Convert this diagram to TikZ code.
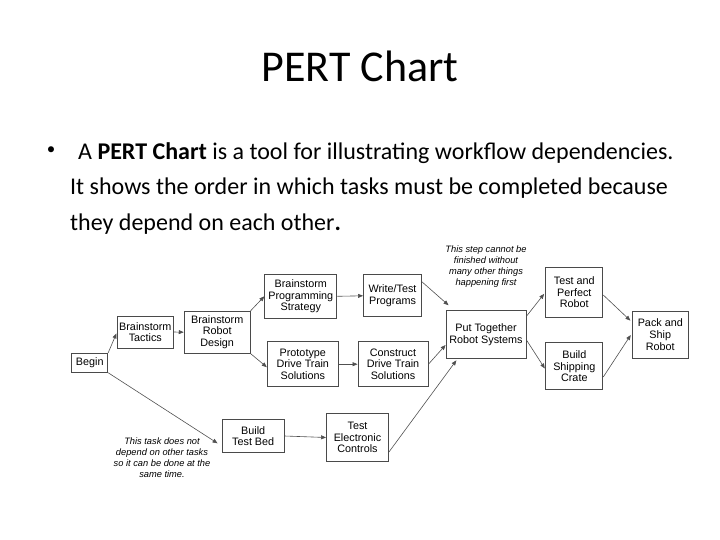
\documentclass[tikz,border=0pt]{standalone}
\usepackage{fontspec}
\setmainfont{Carlito}
\newfontfamily\dfont{Liberation Sans}
\usetikzlibrary{arrows.meta}
\definecolor{boxgray}{HTML}{4A4A4A}
\definecolor{linegray}{HTML}{505050}
\begin{document}
\begin{tikzpicture}[x=1pt,y=-1pt,
  box/.style={draw=boxgray, line width=0.9pt, align=center, inner sep=0pt,
    font=\dfont\fontsize{10.8}{11.7}\selectfont},
  conn/.style={draw=linegray, line width=0.6pt, -{Triangle[length=5pt,width=4pt]}},
  note/.style={align=center, inner sep=0pt, font=\dfont\itshape\fontsize{9.3}{11}\selectfont},
  body/.style={anchor=base west, inner sep=0pt, font=\fontsize{24}{28}\selectfont}]
\useasboundingbox (0,0) rectangle (720,540);

% title and text
\node[anchor=base, inner sep=0pt, font=\fontsize{44}{50}\selectfont] (title) at (360,82) {PERT Chart};
\node[anchor=base, inner sep=0pt, font=\fontsize{17}{20}\selectfont] (bul) at (51,155) {•};
\node[body] (l1) at (78,160) {A \textbf{PERT Chart} is a tool for illustrating workflow dependencies.};
\node[body] (l2) at (70,195) {It shows the order in which tasks must be completed because};
\node[body] (l3) at (70,230) {they depend on each other\textbf{.}};

% nodes
\node[box, minimum width=36pt, minimum height=19pt] (begin) at (89.7,362.8) {Begin};
\node[box, minimum width=56pt, minimum height=32pt] (bt) at (145.3,332) {Brainstorm\\Tactics};
\node[box, minimum width=66pt, minimum height=42pt] (brd) at (217.2,332.2) {Brainstorm\\Robot\\Design};
\node[box, minimum width=72pt, minimum height=44pt] (bps) at (300.8,296.3) {Brainstorm\\Programming\\Strategy};
\node[box, minimum width=58pt, minimum height=42pt] (wtp) at (392.5,295.8) {Write/Test\\Programs};
\node[box, minimum width=71pt, minimum height=45pt] (pdts) at (302.8,364.2) {Prototype\\Drive Train\\Solutions};
\node[box, minimum width=70pt, minimum height=45pt] (cdts) at (393,364.2) {Construct\\Drive Train\\Solutions};
\node[box, minimum width=80pt, minimum height=47.6pt] (ptrs) at (486,334.5) {Put Together\\Robot Systems};
\node[box, minimum width=57pt, minimum height=50pt] (tpr) at (574.3,292.3) {Test and\\Perfect\\Robot};
\node[box, minimum width=57pt, minimum height=47pt] (bsc) at (574.3,366.3) {Build\\Shipping\\Crate};
\node[box, minimum width=56pt, minimum height=47pt] (psr) at (660.3,334.7) {Pack and\\Ship\\Robot};
\node[box, minimum width=62pt, minimum height=33pt] (btb) at (253.2,436) {Build\\Test Bed};
\node[box, minimum width=62pt, minimum height=48pt] (tec) at (357.5,437.5) {Test\\Electronic\\Controls};

% notes
\node[note] (n1) at (486,266.3) {This step cannot be\\finished without\\many other things\\happening first};
\node[note] (n2) at (162,458) {This task does not\\depend on other tasks\\so it can be done at the\\same time.};

% connectors
\draw[conn, shorten >=1pt] (begin.north east) -- ([yshift=-0.5pt]bt.west);
\draw[conn] (bt.east) -- (brd.west);
\draw[conn] (brd.north east) -- (bps.west);
\draw[conn] (brd.south east) -- ([yshift=-3pt]pdts.west);
\draw[conn, shorten >=5pt] (begin.south east) -- ([yshift=-10pt]btb.west);
\draw[conn] (bps.east) -- (wtp.west);
\draw[conn] (pdts.east) -- (cdts.west);
\draw[conn] (btb.east) -- (tec.west);
\draw[conn] ([yshift=14pt]wtp.east) -- ([xshift=3pt,yshift=5pt]ptrs.north west);
\draw[conn] (cdts.east) -- ([yshift=-10.5pt]ptrs.west);
\draw[conn, shorten >=2pt] ([yshift=-14.5pt]tec.east) -- ([xshift=12pt]ptrs.south west);
\draw[conn, shorten >=2pt] ([yshift=-6pt]ptrs.north east) -- (tpr.west);
\draw[conn, shorten >=1pt] ([yshift=-5.5pt]ptrs.east) -- ([yshift=-3pt]bsc.west);
\draw[conn, shorten >=2pt] ([yshift=-2.7pt]tpr.east) -- ([yshift=12.7pt]psr.west);
\draw[conn, shorten >=2pt] ([yshift=-10.7pt]bsc.east) -- ([yshift=1.4pt]psr.west);
\end{tikzpicture}
\end{document}
